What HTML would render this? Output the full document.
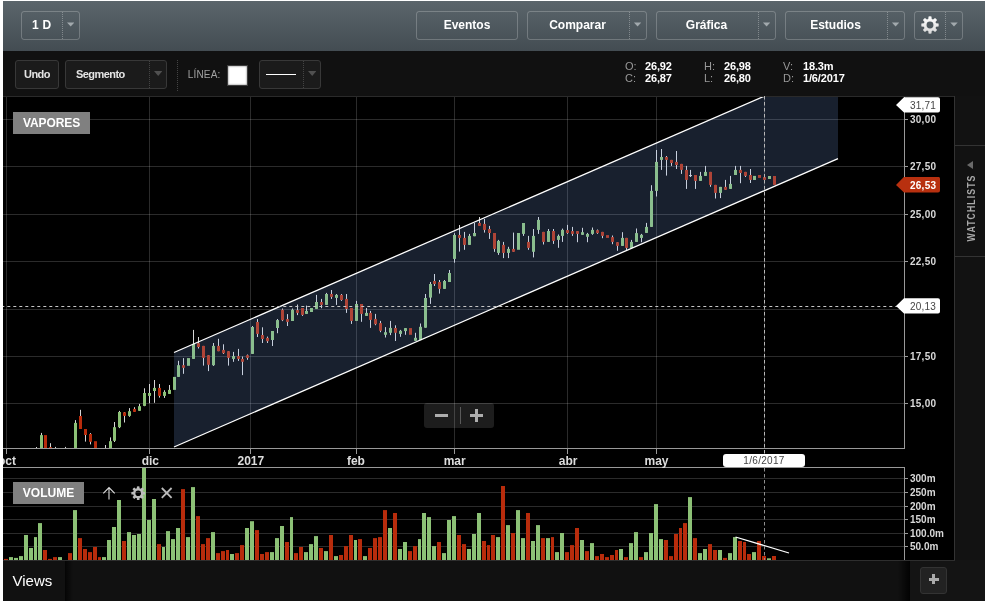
<!DOCTYPE html>
<html><head><meta charset="utf-8"><title>Chart</title>
<style>
*{box-sizing:border-box;margin:0;padding:0}
html,body{width:987px;height:602px;background:#fff;overflow:hidden}
body{font-family:"Liberation Sans",Arial,sans-serif;position:relative;color:#fff}
.app{position:absolute;left:3px;top:1px;width:982px;height:600px;background:#000;overflow:hidden}
.abs{position:absolute}
.topbar{left:0;top:0;width:982px;height:50px;background:linear-gradient(#5b656b,#434c52)}
.tb2{left:0;top:50px;width:982px;height:45px;background:#111}
.btn{position:absolute;top:10px;height:29px;border:1px solid rgba(255,255,255,.22);border-radius:3px;font-weight:bold;font-size:12px;line-height:27px;text-align:center;color:#fff}
.btn .dv{position:absolute;top:0;bottom:0;width:0;border-left:1px dotted rgba(255,255,255,.3)}
.btn .ar{position:absolute;top:10.4px;width:7.4px;height:4.2px;background:#a2a9ad;clip-path:polygon(0 0,100% 0,50% 100%)}
.btn2{position:absolute;top:9px;height:29px;border:1px solid #383838;border-radius:3px;background:#1b1b1b;font-weight:bold;font-size:11px;line-height:27px;color:#e4e4e4;letter-spacing:-.55px}
.btn2 .dv{position:absolute;top:0;bottom:0;width:0;border-left:1px dotted #444}
.btn2 .ar{position:absolute;top:10px;width:8.4px;height:5px;background:#505050;clip-path:polygon(0 0,100% 0,50% 100%)}
.chart{position:absolute;left:-3px;top:-1px}
.lbl{position:absolute;font-weight:bold;font-size:12px;color:#ddd;line-height:14px;white-space:nowrap}
.plbl{position:absolute;left:907px;font-weight:bold;font-size:10px;color:#d8d8d8;line-height:12px;letter-spacing:.25px;white-space:nowrap}
.vl{letter-spacing:0}
.tag{position:absolute;background:#808080;color:#fff;font-weight:bold;font-size:12px;text-align:center}
.ohlc{position:absolute;font-size:11px;line-height:12px;color:#999;white-space:nowrap}
.ohlc b{color:#fff;position:absolute;left:20px;letter-spacing:-.15px}
.right{left:951px;top:95px;width:31px;height:464px;background:#121212;border-left:1px solid #333}
.bottom{left:0;top:559px;width:982px;height:41px;background:#111}
</style></head><body>
<div class="app">
 <div class="abs topbar">
  <div class="btn" style="left:18px;width:59px;text-align:left;padding-left:10px;letter-spacing:.3px">1 D<span class="dv" style="left:40px"></span><span class="ar" style="left:45px"></span></div>
  <div class="btn" style="left:413px;width:102px">Eventos</div>
  <div class="btn" style="left:524px;width:120px;padding-right:19px">Comparar<span class="dv" style="left:101px"></span><span class="ar" style="left:105.900px"></span></div>
  <div class="btn" style="left:653px;width:120px;padding-right:19px">Gráfica<span class="dv" style="left:101px"></span><span class="ar" style="left:105.900px"></span></div>
  <div class="btn" style="left:782px;width:120px;padding-right:19px">Estudios<span class="dv" style="left:101px"></span><span class="ar" style="left:105.900px"></span></div>
  <div class="btn" style="left:911px;width:49px"><svg class="abs" style="left:4.900px;top:2.600px" width="20" height="20" viewBox="0 0 20 20"><defs><linearGradient id="gg" x1="0" y1="0" x2="0" y2="1"><stop offset="0" stop-color="#ffffff"/><stop offset="1" stop-color="#d8d8d8"/></linearGradient></defs><path fill="url(#gg)" fill-rule="evenodd" d="M8.26 3.94L8.56 1.42A8.70 8.70 0 0 1 11.44 1.42L11.74 3.94A6.30 6.30 0 0 1 13.05 4.49L15.05 2.92A8.70 8.70 0 0 1 17.08 4.95L15.51 6.95A6.30 6.30 0 0 1 16.06 8.26L18.58 8.56A8.70 8.70 0 0 1 18.58 11.44L16.06 11.74A6.30 6.30 0 0 1 15.51 13.05L17.08 15.05A8.70 8.70 0 0 1 15.05 17.08L13.05 15.51A6.30 6.30 0 0 1 11.74 16.06L11.44 18.58A8.70 8.70 0 0 1 8.56 18.58L8.26 16.06A6.30 6.30 0 0 1 6.95 15.51L4.95 17.08A8.70 8.70 0 0 1 2.92 15.05L4.49 13.05A6.30 6.30 0 0 1 3.94 11.74L1.42 11.44A8.70 8.70 0 0 1 1.42 8.56L3.94 8.26A6.30 6.30 0 0 1 4.49 6.95L2.92 4.95A8.70 8.70 0 0 1 4.95 2.92L6.95 4.49A6.30 6.30 0 0 1 8.26 3.94ZM13.45 10.00A3.45 3.45 0 1 0 6.55 10.00A3.45 3.45 0 1 0 13.45 10.00Z"/></svg><span class="dv" style="left:30px"></span><span class="ar" style="left:35.300px"></span></div>
 </div>
 <div class="abs tb2">
  <div class="btn2" style="left:12px;width:44px;text-align:center">Undo</div>
  <div class="btn2" style="left:62px;width:102px;padding-left:10px">Segmento<span class="dv" style="left:83px"></span><span class="ar" style="left:88px"></span></div>
  <div class="abs" style="left:174px;top:9px;height:31px;border-left:1px dotted #444"></div>
  <div class="abs" style="left:184.700px;top:17.500px;font-size:10px;line-height:12px;color:#a2a2a2;letter-spacing:.2px">LÍNEA:</div>
  <div class="abs" style="left:224px;top:14px;width:21px;height:21px;background:#fff;border:1px solid #3c3c3c;box-shadow:inset 0 0 2px 0 rgba(0,0,0,.65)"></div>
  <div class="btn2" style="left:256px;width:62px"><span class="abs" style="left:6px;top:13px;width:30px;height:1px;background:#fff"></span><span class="dv" style="left:43px"></span><span class="ar" style="left:48px"></span></div>
  <div class="ohlc" style="left:622px;top:9px">O:<b>26,92</b></div>
  <div class="ohlc" style="left:622px;top:21px">C:<b>26,87</b></div>
  <div class="ohlc" style="left:701px;top:9px">H:<b>26,98</b></div>
  <div class="ohlc" style="left:701px;top:21px">L:<b>26,80</b></div>
  <div class="ohlc" style="left:780px;top:9px">V:<b>18.3m</b></div>
  <div class="ohlc" style="left:780px;top:21px">D:<b>1/6/2017</b></div>
 </div>
 <div class="abs" style="left:0;top:95px;width:951px;height:1px;background:#2a2a2a"></div>
 <svg class="chart" width="987" height="602" viewBox="0 0 987 602" shape-rendering="auto">
<defs><clipPath id="cp"><rect x="3" y="97" width="901" height="351"/></clipPath><clipPath id="cv"><rect x="3" y="468" width="901" height="92"/></clipPath></defs>
<rect x="3" y="119" width="901" height="1" fill="rgba(255,255,255,0.17)"/>
<rect x="3" y="166" width="901" height="1" fill="rgba(255,255,255,0.17)"/>
<rect x="3" y="214" width="901" height="1" fill="rgba(255,255,255,0.17)"/>
<rect x="3" y="261" width="901" height="1" fill="rgba(255,255,255,0.17)"/>
<rect x="3" y="309" width="901" height="1" fill="rgba(255,255,255,0.17)"/>
<rect x="3" y="356" width="901" height="1" fill="rgba(255,255,255,0.17)"/>
<rect x="3" y="403" width="901" height="1" fill="rgba(255,255,255,0.17)"/>
<rect x="6" y="97" width="1" height="351" fill="rgba(255,255,255,0.17)"/>
<rect x="149" y="97" width="1" height="351" fill="rgba(255,255,255,0.17)"/>
<rect x="250" y="97" width="1" height="351" fill="rgba(255,255,255,0.17)"/>
<rect x="356" y="97" width="1" height="351" fill="rgba(255,255,255,0.17)"/>
<rect x="454" y="97" width="1" height="351" fill="rgba(255,255,255,0.17)"/>
<rect x="567" y="97" width="1" height="351" fill="rgba(255,255,255,0.17)"/>
<rect x="656" y="97" width="1" height="351" fill="rgba(255,255,255,0.17)"/>
<rect x="764" y="97" width="1" height="351" fill="rgba(255,255,255,0.17)"/>
<rect x="3" y="478" width="901" height="1" fill="rgba(255,255,255,0.17)"/>
<rect x="3" y="492" width="901" height="1" fill="rgba(255,255,255,0.17)"/>
<rect x="3" y="506" width="901" height="1" fill="rgba(255,255,255,0.17)"/>
<rect x="3" y="519" width="901" height="1" fill="rgba(255,255,255,0.17)"/>
<rect x="3" y="533" width="901" height="1" fill="rgba(255,255,255,0.17)"/>
<rect x="3" y="546" width="901" height="1" fill="rgba(255,255,255,0.17)"/>
<g clip-path="url(#cp)">
<rect x="36" y="447.0" width="1" height="1.5" fill="#d6d6d6"/>
<rect x="41" y="432.9" width="1" height="16.1" fill="#d6d6d6"/>
<rect x="40" y="435.1" width="3" height="13.9" fill="#8cc176"/>
<rect x="44" y="435.1" width="3" height="13.9" fill="#b82c0c"/>
<rect x="50" y="443.2" width="1" height="5.8" fill="#d6d6d6"/>
<rect x="49" y="447.1" width="3" height="1.9" fill="#b82c0c"/>
<rect x="55" y="446.9" width="1" height="2.1" fill="#d6d6d6"/>
<rect x="65" y="446.9" width="1" height="2.1" fill="#d6d6d6"/>
<rect x="75" y="420.1" width="1" height="28.9" fill="#d6d6d6"/>
<rect x="74" y="422.9" width="3" height="26.1" fill="#8cc176"/>
<rect x="80" y="409.8" width="1" height="19.2" fill="#d6d6d6"/>
<rect x="79" y="416.0" width="3" height="13.0" fill="#b82c0c"/>
<rect x="85" y="429.0" width="1" height="12.6" fill="#d6d6d6"/>
<rect x="84" y="429.0" width="3" height="6.0" fill="#b82c0c"/>
<rect x="90" y="433.1" width="1" height="11.3" fill="#d6d6d6"/>
<rect x="89" y="434.0" width="3" height="7.8" fill="#b82c0c"/>
<rect x="94" y="441.2" width="3" height="7.8" fill="#b82c0c"/>
<rect x="105" y="445.0" width="1" height="4.0" fill="#d6d6d6"/>
<rect x="110" y="437.4" width="1" height="11.6" fill="#d6d6d6"/>
<rect x="109" y="441.2" width="3" height="7.8" fill="#8cc176"/>
<rect x="114" y="422.0" width="1" height="20.0" fill="#d6d6d6"/>
<rect x="113" y="427.2" width="3" height="13.6" fill="#8cc176"/>
<rect x="119" y="410.9" width="1" height="17.2" fill="#d6d6d6"/>
<rect x="118" y="412.0" width="3" height="15.2" fill="#8cc176"/>
<rect x="124" y="412.0" width="1" height="10.5" fill="#d6d6d6"/>
<rect x="123" y="412.3" width="3" height="3.6" fill="#b82c0c"/>
<rect x="129" y="408.1" width="1" height="8.7" fill="#d6d6d6"/>
<rect x="128" y="411.2" width="3" height="4.7" fill="#8cc176"/>
<rect x="134" y="407.2" width="1" height="4.7" fill="#d6d6d6"/>
<rect x="133" y="408.9" width="3" height="3.0" fill="#b82c0c"/>
<rect x="139" y="403.9" width="1" height="6.9" fill="#d6d6d6"/>
<rect x="138" y="406.2" width="3" height="4.6" fill="#8cc176"/>
<rect x="144" y="388.3" width="1" height="17.9" fill="#d6d6d6"/>
<rect x="143" y="393.0" width="3" height="12.9" fill="#8cc176"/>
<rect x="149" y="384.0" width="1" height="19.2" fill="#d6d6d6"/>
<rect x="148" y="393.0" width="3" height="2.9" fill="#8cc176"/>
<rect x="154" y="380.0" width="1" height="22.8" fill="#d6d6d6"/>
<rect x="153" y="387.9" width="3" height="3.1" fill="#8cc176"/>
<rect x="159" y="384.0" width="1" height="13.6" fill="#d6d6d6"/>
<rect x="158" y="387.9" width="3" height="8.0" fill="#b82c0c"/>
<rect x="164" y="390.2" width="1" height="7.7" fill="#d6d6d6"/>
<rect x="163" y="391.9" width="3" height="4.0" fill="#8cc176"/>
<rect x="169" y="385.0" width="1" height="8.9" fill="#d6d6d6"/>
<rect x="168" y="389.9" width="3" height="4.0" fill="#8cc176"/>
<rect x="173" y="376.9" width="3" height="13.0" fill="#8cc176"/>
<rect x="178" y="360.8" width="1" height="16.1" fill="#d6d6d6"/>
<rect x="177" y="365.2" width="3" height="11.7" fill="#8cc176"/>
<rect x="183" y="358.1" width="1" height="15.7" fill="#d6d6d6"/>
<rect x="182" y="365.2" width="3" height="2.6" fill="#b82c0c"/>
<rect x="187" y="358.1" width="3" height="7.7" fill="#8cc176"/>
<rect x="193" y="329.9" width="1" height="29.0" fill="#d6d6d6"/>
<rect x="192" y="343.9" width="3" height="15.0" fill="#8cc176"/>
<rect x="198" y="337.0" width="1" height="11.5" fill="#d6d6d6"/>
<rect x="197" y="343.2" width="3" height="3.8" fill="#b82c0c"/>
<rect x="203" y="345.9" width="1" height="19.7" fill="#d6d6d6"/>
<rect x="202" y="345.9" width="3" height="12.0" fill="#b82c0c"/>
<rect x="208" y="355.2" width="1" height="15.9" fill="#d6d6d6"/>
<rect x="207" y="355.2" width="3" height="9.6" fill="#b82c0c"/>
<rect x="213" y="343.0" width="1" height="22.9" fill="#d6d6d6"/>
<rect x="212" y="345.9" width="3" height="19.3" fill="#8cc176"/>
<rect x="218" y="338.8" width="1" height="12.4" fill="#d6d6d6"/>
<rect x="217" y="345.9" width="3" height="5.3" fill="#b82c0c"/>
<rect x="223" y="344.3" width="1" height="9.7" fill="#d6d6d6"/>
<rect x="222" y="349.9" width="3" height="3.3" fill="#b82c0c"/>
<rect x="228" y="351.2" width="1" height="14.4" fill="#d6d6d6"/>
<rect x="227" y="351.2" width="3" height="6.7" fill="#b82c0c"/>
<rect x="233" y="351.9" width="1" height="9.9" fill="#d6d6d6"/>
<rect x="232" y="356.1" width="3" height="2.8" fill="#8cc176"/>
<rect x="238" y="348.9" width="1" height="12.0" fill="#d6d6d6"/>
<rect x="237" y="356.1" width="3" height="2.8" fill="#b82c0c"/>
<rect x="242" y="356.5" width="1" height="18.6" fill="#d6d6d6"/>
<rect x="241" y="358.9" width="3" height="2.9" fill="#b82c0c"/>
<rect x="247" y="354.5" width="1" height="5.3" fill="#d6d6d6"/>
<rect x="246" y="355.2" width="3" height="2.7" fill="#b82c0c"/>
<rect x="252" y="326.0" width="1" height="27.9" fill="#d6d6d6"/>
<rect x="251" y="327.0" width="3" height="26.9" fill="#8cc176"/>
<rect x="257" y="319.0" width="1" height="18.0" fill="#d6d6d6"/>
<rect x="256" y="322.0" width="3" height="11.9" fill="#b82c0c"/>
<rect x="262" y="327.3" width="1" height="15.7" fill="#d6d6d6"/>
<rect x="261" y="335.0" width="3" height="4.0" fill="#b82c0c"/>
<rect x="267" y="336.6" width="1" height="6.4" fill="#d6d6d6"/>
<rect x="266" y="337.9" width="3" height="3.3" fill="#b82c0c"/>
<rect x="272" y="331.0" width="1" height="15.0" fill="#d6d6d6"/>
<rect x="271" y="331.0" width="3" height="9.0" fill="#8cc176"/>
<rect x="277" y="319.0" width="1" height="14.2" fill="#d6d6d6"/>
<rect x="276" y="320.1" width="3" height="7.9" fill="#8cc176"/>
<rect x="282" y="308.5" width="1" height="12.6" fill="#d6d6d6"/>
<rect x="281" y="309.8" width="3" height="10.4" fill="#b82c0c"/>
<rect x="287" y="314.1" width="1" height="11.9" fill="#d6d6d6"/>
<rect x="286" y="319.1" width="3" height="2.8" fill="#b82c0c"/>
<rect x="292" y="308.5" width="1" height="12.5" fill="#d6d6d6"/>
<rect x="291" y="309.8" width="3" height="11.2" fill="#8cc176"/>
<rect x="297" y="304.5" width="1" height="10.6" fill="#d6d6d6"/>
<rect x="296" y="310.1" width="3" height="2.8" fill="#b82c0c"/>
<rect x="302" y="308.0" width="1" height="7.9" fill="#d6d6d6"/>
<rect x="301" y="308.0" width="3" height="6.9" fill="#b82c0c"/>
<rect x="306" y="305.6" width="1" height="8.3" fill="#d6d6d6"/>
<rect x="305" y="310.9" width="3" height="3.0" fill="#8cc176"/>
<rect x="310" y="308.0" width="3" height="4.0" fill="#8cc176"/>
<rect x="316" y="294.9" width="1" height="14.0" fill="#d6d6d6"/>
<rect x="315" y="302.0" width="3" height="6.9" fill="#8cc176"/>
<rect x="321" y="298.9" width="1" height="9.3" fill="#d6d6d6"/>
<rect x="320" y="302.0" width="3" height="2.9" fill="#b82c0c"/>
<rect x="326" y="292.9" width="1" height="12.0" fill="#d6d6d6"/>
<rect x="325" y="294.0" width="3" height="10.9" fill="#8cc176"/>
<rect x="331" y="290.0" width="1" height="8.9" fill="#d6d6d6"/>
<rect x="330" y="294.0" width="3" height="2.9" fill="#b82c0c"/>
<rect x="336" y="294.0" width="1" height="10.9" fill="#d6d6d6"/>
<rect x="335" y="294.9" width="3" height="3.0" fill="#8cc176"/>
<rect x="341" y="294.0" width="1" height="6.9" fill="#d6d6d6"/>
<rect x="340" y="294.9" width="3" height="5.1" fill="#b82c0c"/>
<rect x="346" y="294.0" width="1" height="18.9" fill="#d6d6d6"/>
<rect x="345" y="298.9" width="3" height="10.0" fill="#b82c0c"/>
<rect x="351" y="308.0" width="1" height="15.9" fill="#d6d6d6"/>
<rect x="350" y="308.0" width="3" height="12.9" fill="#b82c0c"/>
<rect x="356" y="300.9" width="1" height="20.0" fill="#d6d6d6"/>
<rect x="355" y="304.0" width="3" height="16.9" fill="#8cc176"/>
<rect x="361" y="304.0" width="1" height="17.8" fill="#d6d6d6"/>
<rect x="360" y="304.0" width="3" height="9.9" fill="#b82c0c"/>
<rect x="366" y="308.0" width="1" height="7.9" fill="#d6d6d6"/>
<rect x="365" y="312.9" width="3" height="3.0" fill="#8cc176"/>
<rect x="370" y="310.9" width="1" height="17.0" fill="#d6d6d6"/>
<rect x="369" y="312.9" width="3" height="7.0" fill="#b82c0c"/>
<rect x="375" y="313.9" width="1" height="11.3" fill="#d6d6d6"/>
<rect x="374" y="318.9" width="3" height="5.3" fill="#b82c0c"/>
<rect x="380" y="320.9" width="1" height="11.3" fill="#d6d6d6"/>
<rect x="379" y="323.1" width="3" height="7.7" fill="#b82c0c"/>
<rect x="385" y="327.1" width="1" height="10.4" fill="#d6d6d6"/>
<rect x="384" y="332.2" width="3" height="2.6" fill="#8cc176"/>
<rect x="390" y="320.9" width="1" height="14.2" fill="#d6d6d6"/>
<rect x="389" y="327.9" width="3" height="4.9" fill="#8cc176"/>
<rect x="395" y="325.3" width="1" height="15.7" fill="#d6d6d6"/>
<rect x="394" y="328.0" width="3" height="4.8" fill="#b82c0c"/>
<rect x="400" y="329.9" width="1" height="6.9" fill="#d6d6d6"/>
<rect x="399" y="330.8" width="3" height="3.1" fill="#8cc176"/>
<rect x="405" y="328.1" width="1" height="6.7" fill="#d6d6d6"/>
<rect x="404" y="328.1" width="3" height="3.0" fill="#8cc176"/>
<rect x="409" y="328.1" width="3" height="6.7" fill="#b82c0c"/>
<rect x="415" y="332.8" width="1" height="8.0" fill="#d6d6d6"/>
<rect x="414" y="337.8" width="3" height="3.0" fill="#8cc176"/>
<rect x="420" y="323.5" width="1" height="16.6" fill="#d6d6d6"/>
<rect x="419" y="326.8" width="3" height="13.3" fill="#8cc176"/>
<rect x="425" y="294.0" width="1" height="33.7" fill="#d6d6d6"/>
<rect x="424" y="298.0" width="3" height="29.7" fill="#8cc176"/>
<rect x="430" y="282.0" width="1" height="21.9" fill="#d6d6d6"/>
<rect x="429" y="284.0" width="3" height="13.6" fill="#8cc176"/>
<rect x="434" y="274.0" width="1" height="12.0" fill="#d6d6d6"/>
<rect x="433" y="281.0" width="3" height="3.0" fill="#b82c0c"/>
<rect x="439" y="280.0" width="1" height="13.6" fill="#d6d6d6"/>
<rect x="438" y="282.0" width="3" height="6.9" fill="#b82c0c"/>
<rect x="444" y="280.0" width="1" height="8.9" fill="#d6d6d6"/>
<rect x="443" y="281.0" width="3" height="7.9" fill="#8cc176"/>
<rect x="449" y="270.0" width="1" height="12.0" fill="#d6d6d6"/>
<rect x="448" y="273.0" width="3" height="9.0" fill="#8cc176"/>
<rect x="454" y="233.2" width="1" height="29.5" fill="#d6d6d6"/>
<rect x="453" y="235.0" width="3" height="23.9" fill="#8cc176"/>
<rect x="459" y="225.0" width="1" height="26.6" fill="#d6d6d6"/>
<rect x="458" y="235.0" width="3" height="2.9" fill="#b82c0c"/>
<rect x="464" y="231.9" width="1" height="17.9" fill="#d6d6d6"/>
<rect x="463" y="237.9" width="3" height="7.0" fill="#b82c0c"/>
<rect x="469" y="233.9" width="1" height="11.0" fill="#d6d6d6"/>
<rect x="468" y="235.9" width="3" height="9.0" fill="#8cc176"/>
<rect x="474" y="223.0" width="1" height="13.2" fill="#d6d6d6"/>
<rect x="473" y="233.0" width="3" height="3.2" fill="#8cc176"/>
<rect x="479" y="217.0" width="1" height="8.9" fill="#d6d6d6"/>
<rect x="478" y="223.0" width="3" height="2.9" fill="#b82c0c"/>
<rect x="484" y="219.0" width="1" height="13.6" fill="#d6d6d6"/>
<rect x="483" y="223.9" width="3" height="6.0" fill="#b82c0c"/>
<rect x="489" y="225.9" width="1" height="13.0" fill="#d6d6d6"/>
<rect x="488" y="229.0" width="3" height="4.0" fill="#b82c0c"/>
<rect x="494" y="233.0" width="1" height="18.8" fill="#d6d6d6"/>
<rect x="493" y="233.0" width="3" height="15.9" fill="#b82c0c"/>
<rect x="498" y="239.9" width="1" height="15.0" fill="#d6d6d6"/>
<rect x="497" y="240.9" width="3" height="12.0" fill="#8cc176"/>
<rect x="503" y="241.9" width="1" height="16.2" fill="#d6d6d6"/>
<rect x="502" y="244.9" width="3" height="8.0" fill="#b82c0c"/>
<rect x="508" y="246.8" width="1" height="11.3" fill="#d6d6d6"/>
<rect x="507" y="248.9" width="3" height="4.0" fill="#8cc176"/>
<rect x="513" y="232.6" width="1" height="19.2" fill="#d6d6d6"/>
<rect x="512" y="248.9" width="3" height="2.9" fill="#b82c0c"/>
<rect x="517" y="233.0" width="3" height="16.8" fill="#8cc176"/>
<rect x="523" y="223.0" width="1" height="12.9" fill="#d6d6d6"/>
<rect x="522" y="223.0" width="3" height="10.9" fill="#8cc176"/>
<rect x="528" y="235.9" width="1" height="13.9" fill="#d6d6d6"/>
<rect x="527" y="241.9" width="3" height="6.0" fill="#b82c0c"/>
<rect x="533" y="229.0" width="1" height="28.4" fill="#d6d6d6"/>
<rect x="532" y="235.9" width="3" height="15.9" fill="#8cc176"/>
<rect x="538" y="217.0" width="1" height="16.9" fill="#d6d6d6"/>
<rect x="537" y="219.9" width="3" height="10.0" fill="#8cc176"/>
<rect x="543" y="231.9" width="1" height="12.6" fill="#d6d6d6"/>
<rect x="542" y="231.9" width="3" height="10.0" fill="#b82c0c"/>
<rect x="548" y="229.0" width="1" height="12.9" fill="#d6d6d6"/>
<rect x="547" y="231.0" width="3" height="10.9" fill="#8cc176"/>
<rect x="553" y="229.0" width="1" height="14.9" fill="#d6d6d6"/>
<rect x="552" y="231.0" width="3" height="9.9" fill="#b82c0c"/>
<rect x="558" y="234.5" width="1" height="13.3" fill="#d6d6d6"/>
<rect x="557" y="235.9" width="3" height="4.0" fill="#8cc176"/>
<rect x="562" y="228.6" width="1" height="13.3" fill="#d6d6d6"/>
<rect x="561" y="229.9" width="3" height="6.0" fill="#8cc176"/>
<rect x="567" y="224.9" width="1" height="9.0" fill="#d6d6d6"/>
<rect x="566" y="230.1" width="3" height="2.9" fill="#b82c0c"/>
<rect x="572" y="226.9" width="1" height="9.0" fill="#d6d6d6"/>
<rect x="571" y="231.1" width="3" height="2.8" fill="#b82c0c"/>
<rect x="577" y="231.1" width="1" height="11.1" fill="#d6d6d6"/>
<rect x="576" y="231.1" width="3" height="2.8" fill="#b82c0c"/>
<rect x="582" y="227.8" width="1" height="7.0" fill="#d6d6d6"/>
<rect x="581" y="232.2" width="3" height="2.6" fill="#8cc176"/>
<rect x="587" y="232.9" width="1" height="9.3" fill="#d6d6d6"/>
<rect x="586" y="233.9" width="3" height="2.9" fill="#8cc176"/>
<rect x="592" y="227.5" width="1" height="7.3" fill="#d6d6d6"/>
<rect x="591" y="229.9" width="3" height="4.0" fill="#8cc176"/>
<rect x="597" y="229.5" width="1" height="4.4" fill="#d6d6d6"/>
<rect x="596" y="230.2" width="3" height="2.9" fill="#b82c0c"/>
<rect x="602" y="231.9" width="1" height="6.3" fill="#d6d6d6"/>
<rect x="601" y="231.9" width="3" height="4.0" fill="#b82c0c"/>
<rect x="606" y="235.1" width="3" height="2.8" fill="#b82c0c"/>
<rect x="612" y="235.5" width="1" height="8.7" fill="#d6d6d6"/>
<rect x="611" y="237.1" width="3" height="4.8" fill="#b82c0c"/>
<rect x="617" y="242.2" width="1" height="8.6" fill="#d6d6d6"/>
<rect x="616" y="242.2" width="3" height="3.7" fill="#b82c0c"/>
<rect x="622" y="232.2" width="1" height="13.7" fill="#d6d6d6"/>
<rect x="621" y="237.9" width="3" height="8.0" fill="#8cc176"/>
<rect x="626" y="237.9" width="1" height="12.2" fill="#d6d6d6"/>
<rect x="625" y="237.9" width="3" height="10.0" fill="#b82c0c"/>
<rect x="631" y="239.9" width="1" height="8.2" fill="#d6d6d6"/>
<rect x="630" y="241.9" width="3" height="6.2" fill="#8cc176"/>
<rect x="636" y="228.5" width="1" height="13.4" fill="#d6d6d6"/>
<rect x="635" y="233.1" width="3" height="8.8" fill="#8cc176"/>
<rect x="641" y="233.9" width="1" height="8.3" fill="#d6d6d6"/>
<rect x="640" y="234.8" width="3" height="3.1" fill="#8cc176"/>
<rect x="646" y="222.9" width="1" height="10.0" fill="#d6d6d6"/>
<rect x="645" y="226.9" width="3" height="6.0" fill="#8cc176"/>
<rect x="651" y="185.2" width="1" height="41.7" fill="#d6d6d6"/>
<rect x="650" y="190.9" width="3" height="36.0" fill="#8cc176"/>
<rect x="656" y="150.0" width="1" height="46.5" fill="#d6d6d6"/>
<rect x="655" y="161.9" width="3" height="29.0" fill="#8cc176"/>
<rect x="661" y="149.0" width="1" height="20.9" fill="#d6d6d6"/>
<rect x="660" y="157.0" width="3" height="2.9" fill="#8cc176"/>
<rect x="666" y="156.0" width="1" height="19.6" fill="#d6d6d6"/>
<rect x="665" y="157.0" width="3" height="2.9" fill="#b82c0c"/>
<rect x="671" y="159.9" width="1" height="6.0" fill="#d6d6d6"/>
<rect x="670" y="159.9" width="3" height="3.1" fill="#b82c0c"/>
<rect x="676" y="151.0" width="1" height="18.0" fill="#d6d6d6"/>
<rect x="675" y="161.9" width="3" height="3.1" fill="#b82c0c"/>
<rect x="681" y="163.9" width="1" height="10.0" fill="#d6d6d6"/>
<rect x="680" y="163.9" width="3" height="6.0" fill="#b82c0c"/>
<rect x="686" y="165.9" width="1" height="23.0" fill="#d6d6d6"/>
<rect x="685" y="169.9" width="3" height="10.0" fill="#b82c0c"/>
<rect x="690" y="169.9" width="1" height="7.1" fill="#d6d6d6"/>
<rect x="689" y="175.1" width="3" height="1" fill="#d6d6d6"/>
<rect x="695" y="175.0" width="1" height="13.9" fill="#d6d6d6"/>
<rect x="694" y="175.0" width="3" height="5.9" fill="#b82c0c"/>
<rect x="700" y="171.9" width="1" height="9.0" fill="#d6d6d6"/>
<rect x="699" y="175.9" width="3" height="5.0" fill="#8cc176"/>
<rect x="705" y="165.9" width="1" height="10.0" fill="#d6d6d6"/>
<rect x="704" y="171.9" width="3" height="4.0" fill="#8cc176"/>
<rect x="710" y="171.9" width="1" height="14.9" fill="#d6d6d6"/>
<rect x="709" y="171.9" width="3" height="13.0" fill="#b82c0c"/>
<rect x="715" y="184.9" width="1" height="13.6" fill="#d6d6d6"/>
<rect x="714" y="184.9" width="3" height="8.0" fill="#b82c0c"/>
<rect x="720" y="186.9" width="1" height="11.2" fill="#d6d6d6"/>
<rect x="719" y="186.9" width="3" height="6.0" fill="#8cc176"/>
<rect x="725" y="179.9" width="1" height="9.9" fill="#d6d6d6"/>
<rect x="724" y="186.9" width="3" height="2.9" fill="#b82c0c"/>
<rect x="730" y="175.9" width="1" height="13.0" fill="#d6d6d6"/>
<rect x="729" y="183.9" width="3" height="5.0" fill="#8cc176"/>
<rect x="735" y="165.9" width="1" height="9.1" fill="#d6d6d6"/>
<rect x="734" y="169.9" width="3" height="5.1" fill="#8cc176"/>
<rect x="740" y="165.9" width="1" height="17.3" fill="#d6d6d6"/>
<rect x="739" y="169.9" width="3" height="3.1" fill="#b82c0c"/>
<rect x="745" y="171.9" width="1" height="5.1" fill="#d6d6d6"/>
<rect x="744" y="171.9" width="3" height="4.0" fill="#b82c0c"/>
<rect x="750" y="169.0" width="1" height="14.0" fill="#d6d6d6"/>
<rect x="749" y="175.0" width="3" height="4.9" fill="#b82c0c"/>
<rect x="753" y="175.9" width="3" height="4.1" fill="#8cc176"/>
<rect x="758" y="175.0" width="3" height="2.9" fill="#b82c0c"/>
<rect x="763" y="177.1" width="3" height="2.8" fill="#b82c0c"/>
<rect x="768" y="176.0" width="3" height="3.0" fill="#8cc176"/>
<rect x="773" y="176.0" width="3" height="8.9" fill="#b82c0c"/>
<polygon points="174.0,352.5 838.0,64.2 838.0,158.7 174.0,447.0" fill="rgba(133,178,255,0.18)"/>
<line x1="174.0" y1="352.5" x2="838.0" y2="64.2" stroke="#fff" stroke-width="1.3"/>
<line x1="174.0" y1="447.0" x2="838.0" y2="158.7" stroke="#fff" stroke-width="1.3"/>
</g>
<g clip-path="url(#cv)">
<rect x="4" y="558.9" width="4" height="1.1" fill="#b82c0c"/>
<rect x="9" y="557.1" width="4" height="2.9" fill="#8cc176"/>
<rect x="14" y="557.9" width="4" height="2.1" fill="#8cc176"/>
<rect x="19" y="556.1" width="4" height="3.9" fill="#8cc176"/>
<rect x="24" y="535.0" width="4" height="25.0" fill="#8cc176"/>
<rect x="29" y="548.0" width="4" height="12.0" fill="#8cc176"/>
<rect x="34" y="537.1" width="3" height="22.9" fill="#8cc176"/>
<rect x="38" y="523.1" width="4" height="36.9" fill="#8cc176"/>
<rect x="43" y="550.0" width="4" height="10.0" fill="#b82c0c"/>
<rect x="48" y="558.9" width="4" height="1.1" fill="#b82c0c"/>
<rect x="53" y="557.1" width="4" height="2.9" fill="#b82c0c"/>
<rect x="58" y="557.1" width="4" height="2.9" fill="#8cc176"/>
<rect x="68" y="553.1" width="4" height="6.9" fill="#b82c0c"/>
<rect x="73" y="510.1" width="4" height="49.9" fill="#8cc176"/>
<rect x="78" y="538.1" width="4" height="21.9" fill="#b82c0c"/>
<rect x="83" y="549.0" width="4" height="11.0" fill="#b82c0c"/>
<rect x="88" y="552.1" width="4" height="7.9" fill="#b82c0c"/>
<rect x="93" y="547.0" width="4" height="13.0" fill="#b82c0c"/>
<rect x="98" y="557.1" width="3" height="2.9" fill="#b82c0c"/>
<rect x="102" y="557.1" width="4" height="2.9" fill="#8cc176"/>
<rect x="107" y="540.0" width="4" height="20.0" fill="#8cc176"/>
<rect x="112" y="527.0" width="4" height="33.0" fill="#8cc176"/>
<rect x="117" y="500.0" width="4" height="60.0" fill="#8cc176"/>
<rect x="122" y="541.0" width="4" height="19.0" fill="#b82c0c"/>
<rect x="127" y="532.1" width="4" height="27.9" fill="#8cc176"/>
<rect x="132" y="535.0" width="4" height="25.0" fill="#8cc176"/>
<rect x="137" y="534.0" width="4" height="26.0" fill="#8cc176"/>
<rect x="142" y="467.9" width="4" height="92.1" fill="#8cc176"/>
<rect x="147" y="520.0" width="4" height="40.0" fill="#8cc176"/>
<rect x="152" y="499.0" width="4" height="61.0" fill="#8cc176"/>
<rect x="157" y="544.1" width="4" height="15.9" fill="#b82c0c"/>
<rect x="162" y="547.0" width="3" height="13.0" fill="#8cc176"/>
<rect x="166" y="531.1" width="4" height="28.9" fill="#8cc176"/>
<rect x="171" y="539.1" width="4" height="20.9" fill="#8cc176"/>
<rect x="176" y="528.0" width="4" height="32.0" fill="#8cc176"/>
<rect x="181" y="489.1" width="4" height="70.9" fill="#b82c0c"/>
<rect x="186" y="537.1" width="4" height="22.9" fill="#8cc176"/>
<rect x="191" y="487.1" width="4" height="72.9" fill="#8cc176"/>
<rect x="196" y="516.1" width="4" height="43.9" fill="#b82c0c"/>
<rect x="201" y="544.1" width="4" height="15.9" fill="#b82c0c"/>
<rect x="206" y="538.1" width="4" height="21.9" fill="#b82c0c"/>
<rect x="211" y="532.1" width="4" height="27.9" fill="#8cc176"/>
<rect x="216" y="553.1" width="4" height="6.9" fill="#b82c0c"/>
<rect x="221" y="551.1" width="4" height="8.9" fill="#b82c0c"/>
<rect x="226" y="550.0" width="3" height="10.0" fill="#b82c0c"/>
<rect x="230" y="554.0" width="4" height="6.0" fill="#8cc176"/>
<rect x="235" y="553.1" width="4" height="6.9" fill="#b82c0c"/>
<rect x="240" y="545.1" width="4" height="14.9" fill="#b82c0c"/>
<rect x="245" y="528.0" width="4" height="32.0" fill="#8cc176"/>
<rect x="250" y="521.2" width="4" height="38.8" fill="#8cc176"/>
<rect x="255" y="530.1" width="4" height="29.9" fill="#b82c0c"/>
<rect x="260" y="554.0" width="4" height="6.0" fill="#b82c0c"/>
<rect x="265" y="552.1" width="4" height="7.9" fill="#b82c0c"/>
<rect x="270" y="552.1" width="4" height="7.9" fill="#8cc176"/>
<rect x="275" y="538.1" width="4" height="21.9" fill="#8cc176"/>
<rect x="280" y="526.0" width="4" height="34.0" fill="#8cc176"/>
<rect x="285" y="542.0" width="4" height="18.0" fill="#b82c0c"/>
<rect x="290" y="517.1" width="3" height="42.9" fill="#8cc176"/>
<rect x="294" y="553.1" width="4" height="6.9" fill="#b82c0c"/>
<rect x="299" y="547.0" width="4" height="13.0" fill="#b82c0c"/>
<rect x="304" y="552.1" width="4" height="7.9" fill="#8cc176"/>
<rect x="309" y="544.1" width="4" height="15.9" fill="#8cc176"/>
<rect x="314" y="536.1" width="4" height="23.9" fill="#8cc176"/>
<rect x="319" y="548.0" width="4" height="12.0" fill="#b82c0c"/>
<rect x="324" y="551.1" width="4" height="8.9" fill="#8cc176"/>
<rect x="329" y="535.0" width="4" height="25.0" fill="#b82c0c"/>
<rect x="334" y="556.1" width="4" height="3.9" fill="#8cc176"/>
<rect x="339" y="555.0" width="4" height="5.0" fill="#b82c0c"/>
<rect x="344" y="546.1" width="4" height="13.9" fill="#b82c0c"/>
<rect x="349" y="535.0" width="4" height="25.0" fill="#b82c0c"/>
<rect x="354" y="540.0" width="3" height="20.0" fill="#8cc176"/>
<rect x="358" y="539.1" width="4" height="20.9" fill="#b82c0c"/>
<rect x="363" y="556.1" width="4" height="3.9" fill="#8cc176"/>
<rect x="368" y="548.0" width="4" height="12.0" fill="#b82c0c"/>
<rect x="373" y="538.1" width="4" height="21.9" fill="#b82c0c"/>
<rect x="378" y="537.1" width="4" height="22.9" fill="#b82c0c"/>
<rect x="383" y="510.1" width="4" height="49.9" fill="#b82c0c"/>
<rect x="388" y="528.0" width="4" height="32.0" fill="#8cc176"/>
<rect x="393" y="513.0" width="4" height="47.0" fill="#b82c0c"/>
<rect x="398" y="549.0" width="4" height="11.0" fill="#8cc176"/>
<rect x="403" y="542.0" width="4" height="18.0" fill="#8cc176"/>
<rect x="408" y="551.1" width="4" height="8.9" fill="#b82c0c"/>
<rect x="413" y="546.1" width="4" height="13.9" fill="#b82c0c"/>
<rect x="418" y="539.1" width="3" height="20.9" fill="#8cc176"/>
<rect x="422" y="513.0" width="4" height="47.0" fill="#8cc176"/>
<rect x="427" y="517.1" width="4" height="42.9" fill="#8cc176"/>
<rect x="432" y="546.1" width="4" height="13.9" fill="#8cc176"/>
<rect x="437" y="542.0" width="4" height="18.0" fill="#b82c0c"/>
<rect x="442" y="553.1" width="4" height="6.9" fill="#8cc176"/>
<rect x="447" y="520.0" width="4" height="40.0" fill="#8cc176"/>
<rect x="452" y="516.1" width="4" height="43.9" fill="#8cc176"/>
<rect x="457" y="535.0" width="4" height="25.0" fill="#b82c0c"/>
<rect x="462" y="544.1" width="4" height="15.9" fill="#b82c0c"/>
<rect x="467" y="549.0" width="4" height="11.0" fill="#8cc176"/>
<rect x="472" y="534.0" width="4" height="26.0" fill="#8cc176"/>
<rect x="477" y="513.0" width="4" height="47.0" fill="#8cc176"/>
<rect x="482" y="541.0" width="4" height="19.0" fill="#b82c0c"/>
<rect x="487" y="545.1" width="3" height="14.9" fill="#b82c0c"/>
<rect x="491" y="535.0" width="4" height="25.0" fill="#b82c0c"/>
<rect x="496" y="537.1" width="4" height="22.9" fill="#8cc176"/>
<rect x="501" y="486.0" width="4" height="74.0" fill="#b82c0c"/>
<rect x="506" y="525.1" width="4" height="34.9" fill="#8cc176"/>
<rect x="511" y="533.0" width="4" height="27.0" fill="#b82c0c"/>
<rect x="516" y="510.1" width="4" height="49.9" fill="#8cc176"/>
<rect x="521" y="538.1" width="4" height="21.9" fill="#8cc176"/>
<rect x="526" y="513.0" width="4" height="47.0" fill="#b82c0c"/>
<rect x="531" y="541.0" width="4" height="19.0" fill="#8cc176"/>
<rect x="536" y="525.1" width="4" height="34.9" fill="#8cc176"/>
<rect x="541" y="538.1" width="4" height="21.9" fill="#b82c0c"/>
<rect x="546" y="538.1" width="4" height="21.9" fill="#8cc176"/>
<rect x="551" y="537.1" width="3" height="22.9" fill="#b82c0c"/>
<rect x="555" y="552.1" width="4" height="7.9" fill="#8cc176"/>
<rect x="560" y="533.0" width="4" height="27.0" fill="#8cc176"/>
<rect x="565" y="552.1" width="4" height="7.9" fill="#b82c0c"/>
<rect x="570" y="545.1" width="4" height="14.9" fill="#b82c0c"/>
<rect x="575" y="528.0" width="4" height="32.0" fill="#b82c0c"/>
<rect x="580" y="540.0" width="4" height="20.0" fill="#8cc176"/>
<rect x="585" y="551.1" width="4" height="8.9" fill="#b82c0c"/>
<rect x="590" y="543.1" width="4" height="16.9" fill="#8cc176"/>
<rect x="595" y="556.1" width="4" height="3.9" fill="#b82c0c"/>
<rect x="600" y="554.0" width="4" height="6.0" fill="#b82c0c"/>
<rect x="605" y="557.1" width="4" height="2.9" fill="#b82c0c"/>
<rect x="610" y="555.0" width="4" height="5.0" fill="#b82c0c"/>
<rect x="615" y="550.0" width="3" height="10.0" fill="#b82c0c"/>
<rect x="619" y="549.0" width="4" height="11.0" fill="#8cc176"/>
<rect x="624" y="557.1" width="4" height="2.9" fill="#b82c0c"/>
<rect x="629" y="543.1" width="4" height="16.9" fill="#8cc176"/>
<rect x="634" y="532.1" width="4" height="27.9" fill="#8cc176"/>
<rect x="639" y="557.1" width="4" height="2.9" fill="#b82c0c"/>
<rect x="644" y="552.1" width="4" height="7.9" fill="#8cc176"/>
<rect x="649" y="533.0" width="4" height="27.0" fill="#8cc176"/>
<rect x="654" y="504.1" width="4" height="55.9" fill="#8cc176"/>
<rect x="659" y="539.1" width="4" height="20.9" fill="#8cc176"/>
<rect x="664" y="540.0" width="4" height="20.0" fill="#b82c0c"/>
<rect x="669" y="556.1" width="4" height="3.9" fill="#b82c0c"/>
<rect x="674" y="534.0" width="4" height="26.0" fill="#b82c0c"/>
<rect x="679" y="528.0" width="3" height="32.0" fill="#b82c0c"/>
<rect x="683" y="523.1" width="4" height="36.9" fill="#b82c0c"/>
<rect x="688" y="497.1" width="4" height="62.9" fill="#8cc176"/>
<rect x="693" y="538.1" width="4" height="21.9" fill="#b82c0c"/>
<rect x="698" y="553.1" width="4" height="6.9" fill="#8cc176"/>
<rect x="703" y="549.0" width="4" height="11.0" fill="#8cc176"/>
<rect x="708" y="544.1" width="4" height="15.9" fill="#b82c0c"/>
<rect x="713" y="550.0" width="4" height="10.0" fill="#b82c0c"/>
<rect x="718" y="550.0" width="4" height="10.0" fill="#8cc176"/>
<rect x="723" y="557.9" width="4" height="2.1" fill="#b82c0c"/>
<rect x="728" y="553.1" width="4" height="6.9" fill="#8cc176"/>
<rect x="733" y="537.1" width="4" height="22.9" fill="#8cc176"/>
<rect x="738" y="541.0" width="4" height="19.0" fill="#b82c0c"/>
<rect x="743" y="542.0" width="3" height="18.0" fill="#b82c0c"/>
<rect x="747" y="554.0" width="4" height="6.0" fill="#b82c0c"/>
<rect x="752" y="552.1" width="4" height="7.9" fill="#8cc176"/>
<rect x="757" y="541.0" width="4" height="19.0" fill="#b82c0c"/>
<rect x="762" y="556.0" width="4" height="4.0" fill="#b82c0c"/>
<rect x="767" y="558.3" width="4" height="1.7" fill="#8cc176"/>
<rect x="772" y="556.0" width="4" height="4.0" fill="#b82c0c"/>
<line x1="735.5" y1="537" x2="789" y2="553" stroke="#fff" stroke-width="1.3"/>
</g>
<line x1="904.3" y1="306.5" x2="3" y2="306.5" stroke="#c6c6c6" stroke-width="1" stroke-dasharray="3 3"/>
<line x1="764.5" y1="96" x2="764.5" y2="468" stroke="#b8b8b8" stroke-width="1" stroke-dasharray="3.5 2.5"/>
<line x1="764.5" y1="468" x2="764.5" y2="560" stroke="#8e8e8e" stroke-width="1" stroke-dasharray="3.5 2.5"/>
<rect x="3" y="448" width="902" height="1" fill="#999999"/>
<rect x="904" y="97" width="1" height="352" fill="#999999"/>
<rect x="3" y="467" width="902" height="1" fill="#999999"/>
<rect x="904" y="467" width="1" height="93" fill="#999999"/>
<rect x="905" y="119" width="3" height="1" fill="#999999"/>
<rect x="905" y="166" width="3" height="1" fill="#999999"/>
<rect x="905" y="214" width="3" height="1" fill="#999999"/>
<rect x="905" y="261" width="3" height="1" fill="#999999"/>
<rect x="905" y="309" width="3" height="1" fill="#999999"/>
<rect x="905" y="356" width="3" height="1" fill="#999999"/>
<rect x="905" y="403" width="3" height="1" fill="#999999"/>
<rect x="905" y="478" width="3" height="1" fill="#999999"/>
<rect x="905" y="492" width="3" height="1" fill="#999999"/>
<rect x="905" y="506" width="3" height="1" fill="#999999"/>
<rect x="905" y="519" width="3" height="1" fill="#999999"/>
<rect x="905" y="533" width="3" height="1" fill="#999999"/>
<rect x="905" y="546" width="3" height="1" fill="#999999"/>
<rect x="6" y="449" width="1" height="5" fill="#999999"/>
<rect x="149" y="449" width="1" height="5" fill="#999999"/>
<rect x="250" y="449" width="1" height="5" fill="#999999"/>
<rect x="356" y="449" width="1" height="5" fill="#999999"/>
<rect x="454" y="449" width="1" height="5" fill="#999999"/>
<rect x="567" y="449" width="1" height="5" fill="#999999"/>
<rect x="656" y="449" width="1" height="5" fill="#999999"/>
</svg>
 <div class="tag" style="left:10px;top:111px;width:77px;height:22px;line-height:22px;letter-spacing:-.1px">VAPORES</div>
 <div class="tag" style="left:10px;top:481px;width:71px;height:22px;line-height:22px;letter-spacing:0">VOLUME</div>
 <!-- vol icons -->
 <svg class="abs" style="left:96.500px;top:482.500px" width="80" height="20" viewBox="0 0 80 20">
  <path d="M9 15.500V3.500M3.300 9.300L9 3.500l5.700 5.800" stroke="#dcdcdc" stroke-width="1.100" fill="none"/>
  <path fill="#bdbdbd" fill-rule="evenodd" d="M36.84 4.29L36.94 2.42A6.90 6.90 0 0 1 39.46 2.42L39.56 4.29A5.10 5.10 0 0 1 40.71 4.76L42.11 3.51A6.90 6.90 0 0 1 43.89 5.29L42.64 6.69A5.10 5.10 0 0 1 43.11 7.84L44.98 7.94A6.90 6.90 0 0 1 44.98 10.46L43.11 10.56A5.10 5.10 0 0 1 42.64 11.71L43.89 13.11A6.90 6.90 0 0 1 42.11 14.89L40.71 13.64A5.10 5.10 0 0 1 39.56 14.11L39.46 15.98A6.90 6.90 0 0 1 36.94 15.98L36.84 14.11A5.10 5.10 0 0 1 35.69 13.64L34.29 14.89A6.90 6.90 0 0 1 32.51 13.11L33.76 11.71A5.10 5.10 0 0 1 33.29 10.56L31.42 10.46A6.90 6.90 0 0 1 31.42 7.94L33.29 7.84A5.10 5.10 0 0 1 33.76 6.69L32.51 5.29A6.90 6.90 0 0 1 34.29 3.51L35.69 4.76A5.10 5.10 0 0 1 36.84 4.29ZM41.00 9.20A2.80 2.80 0 1 0 35.40 9.20A2.80 2.80 0 1 0 41.00 9.20Z"/>
  <path d="M61.800 4l9.800 9.800M71.600 4l-9.800 9.800" stroke="#bbb" stroke-width="1.800" fill="none"/>
 </svg>
 <!-- x labels -->
 <div class="lbl" style="left:-5.1px;top:453px">oct</div>
 <div class="lbl" style="left:138.7px;top:453px">dic</div>
 <div class="lbl" style="left:234.5px;top:453px">2017</div>
 <div class="lbl" style="left:343.9px;top:453px">feb</div>
 <div class="lbl" style="left:440.7px;top:453px">mar</div>
 <div class="lbl" style="left:555.8px;top:453px">abr</div>
 <div class="lbl" style="left:641.5px;top:453px">may</div>
 <div class="abs" style="left:720px;top:453px;width:82px;height:13px;background:#fff;border-radius:3px;color:#444;font-size:10px;line-height:14px;text-align:center;letter-spacing:.3px">1/6/2017</div>
 <!-- price labels -->
 <div class="plbl" style="top:112.8px">30,00</div>
 <div class="plbl" style="top:159.8px">27,50</div>
 <div class="plbl" style="top:207.8px">25,00</div>
 <div class="plbl" style="top:254.8px">22,50</div>
 <div class="plbl" style="top:349.8px">17,50</div>
 <div class="plbl" style="top:396.8px">15,00</div>
 <div class="plbl vl" style="top:471.9px">300m</div>
 <div class="plbl vl" style="top:485.9px">250m</div>
 <div class="plbl vl" style="top:499.9px">200m</div>
 <div class="plbl vl" style="top:512.9px">150m</div>
 <div class="plbl vl" style="top:526.9px">100.0m</div>
 <div class="plbl vl" style="top:539.9px">50.0m</div>
 <!-- flags -->
 <svg class="abs" style="left:893px;top:96px" width="46" height="17" viewBox="0 0 46 17"><path d="M0 8L8 0.300H42a2 2 0 012 2V13.500a2 2 0 01-2 2H8z" fill="#fff"/><text x="14" y="11.500" font-size="10" letter-spacing=".2" fill="#444" font-family="Liberation Sans, Arial, sans-serif">31,71</text></svg>
 <svg class="abs" style="left:893px;top:176px" width="46" height="17" viewBox="0 0 46 17"><path d="M0 8L8 -0.200H42a2 2 0 012 2V13.400a2 2 0 01-2 2H8z" fill="#b8300f"/><text x="14" y="11.500" font-size="10" letter-spacing=".25" font-weight="bold" fill="#fff" font-family="Liberation Sans, Arial, sans-serif">26,53</text></svg>
 <svg class="abs" style="left:893px;top:297px" width="46" height="17" viewBox="0 0 46 17"><path d="M0 8L8 0.300H42a2 2 0 012 2V13.500a2 2 0 01-2 2H8z" fill="#fff"/><text x="14" y="11.500" font-size="10" letter-spacing=".2" fill="#444" font-family="Liberation Sans, Arial, sans-serif">20,13</text></svg>
 <!-- zoom ctl -->
 <div class="abs" style="left:421px;top:402px;width:70px;height:25px;background:rgba(255,255,255,.115);border-radius:3px">
  <span class="abs" style="left:11px;top:11px;width:13px;height:3px;background:#adadad"></span>
  <span class="abs" style="left:36px;top:4px;width:1px;height:17px;background:#5a5a5a"></span>
  <span class="abs" style="left:46px;top:11px;width:13px;height:3px;background:#adadad"></span>
  <span class="abs" style="left:51px;top:6px;width:3px;height:13px;background:#adadad"></span>
 </div>
 <div class="abs right">
  <div class="abs" style="left:0;top:49px;width:31px;height:112px;border-top:1px solid #333;border-bottom:1px solid #333"></div>
  <div class="abs" style="left:12px;top:65px;width:0;height:0;border-top:4.500px solid transparent;border-bottom:4.500px solid transparent;border-right:6px solid #6a6a6a"></div>
  <div class="abs" style="left:15.500px;top:111.500px;width:0;height:0"><div style="position:absolute;white-space:nowrap;font-weight:bold;font-size:11px;letter-spacing:1.3px;color:#aaa;transform:translate(-50%,-50%) rotate(-90deg) scaleX(.8);line-height:12px">WATCHLISTS</div></div>
 </div>
 <div class="abs bottom">
  <div class="abs" style="left:0;top:0;width:62px;height:41px;background:#111;font-size:15px;line-height:41px;padding-left:9.500px;color:#fff">Views</div>
  <div class="abs" style="left:62px;top:0;width:8px;height:41px;background:linear-gradient(to right,rgba(0,0,0,.75),rgba(0,0,0,0))"></div>
  <div class="abs" style="left:895px;top:0;width:12px;height:41px;background:linear-gradient(to right,rgba(0,0,0,0),rgba(0,0,0,.9))"></div>
  <div class="abs" style="left:907px;top:0;width:75px;height:41px;background:#141414"></div>
  <div class="abs" style="left:0;top:0;width:952px;height:1px;background:#2e2e2e"></div>
  <div class="abs" style="left:917px;top:7px;width:27px;height:27px;background:#222;border:1px solid #333;border-radius:3px">
   <span class="abs" style="left:7.500px;top:9.500px;width:10px;height:3px;background:#aaa"></span>
   <span class="abs" style="left:11px;top:6px;width:3px;height:10px;background:#aaa"></span>
  </div>
 </div>
</div>
</body></html>
